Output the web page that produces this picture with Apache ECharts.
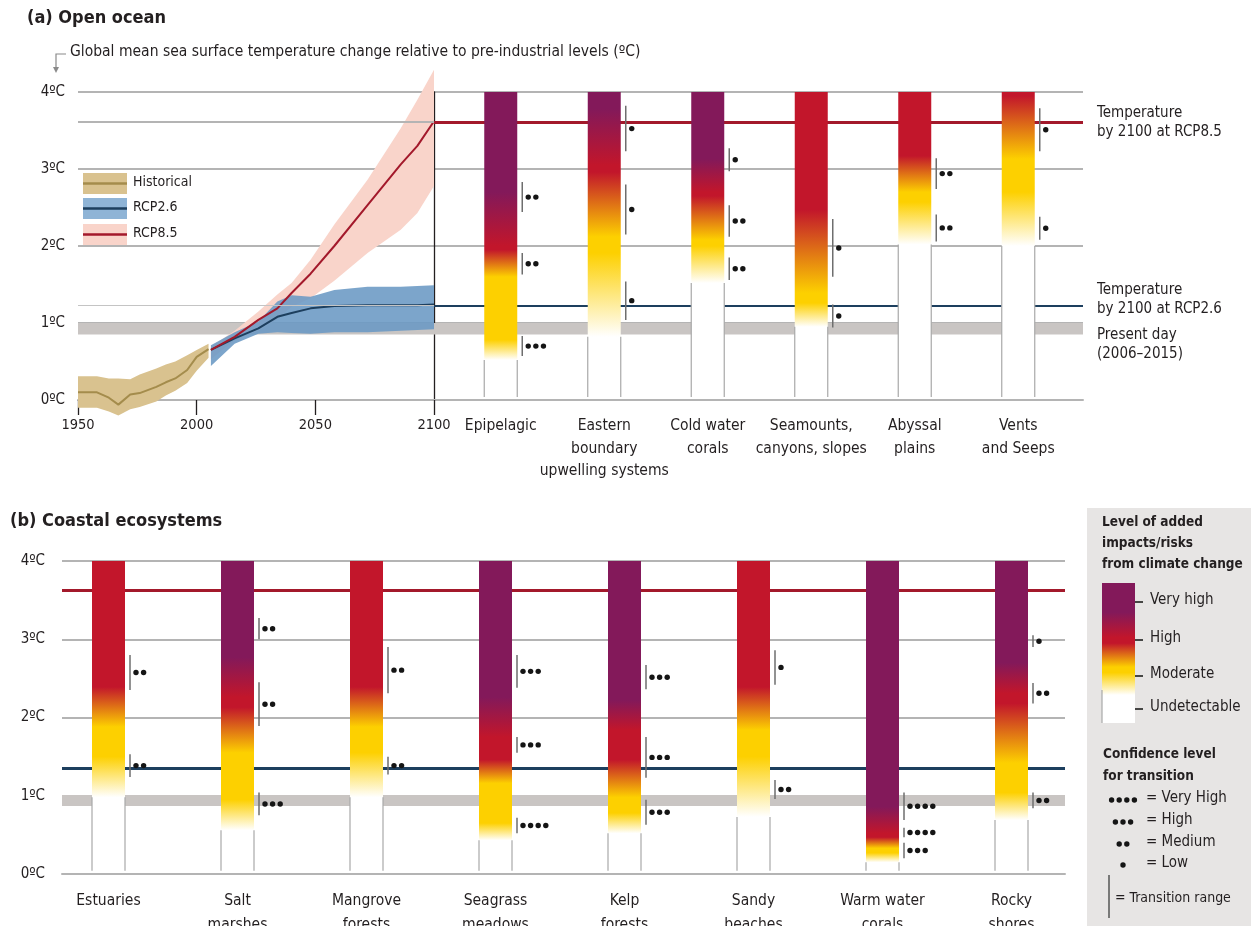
<!DOCTYPE html>
<html>
<head>
<meta charset="utf-8">
<script src="https://cdn.jsdelivr.net/npm/echarts@6/dist/echarts.min.js"></script>
<style>
  html, body { margin: 0; padding: 0; background: #fff; }
  #chart { width: 1251px; height: 926px; }
</style>
</head>
<body>
<div id="chart"></div>
<script>
const FONT = '"Liberation Sans Narrow", "Arial Narrow", "DejaVu Sans Condensed", sans-serif';
const TEXT = '#231f20';

// ---- panel (a) time series ----
const histYears = [1950, 1958, 1963, 1967, 1972, 1976, 1983, 1987, 1991, 1996, 2000, 2005];
const histMean = [0.10, 0.10, 0.03, -0.06, 0.07, 0.09, 0.17, 0.23, 0.28, 0.39, 0.56, 0.66];
const histUpper = [0.31, 0.31, 0.28, 0.28, 0.27, 0.33, 0.41, 0.46, 0.50, 0.58, 0.65, 0.73];
const histLower = [-0.10, -0.10, -0.15, -0.20, -0.12, -0.09, -0.02, 0.06, 0.12, 0.22, 0.38, 0.55];

const rcpYears = [2006, 2016, 2026, 2034, 2040, 2048, 2058, 2072, 2086, 2093, 2100];
const rcp26Mean = [0.65, 0.80, 0.93, 1.08, 1.13, 1.19, 1.22, 1.23, 1.23, 1.23, 1.24];
const rcp26Upper = [0.71, 0.88, 1.02, 1.28, 1.36, 1.34, 1.43, 1.47, 1.47, 1.48, 1.49];
const rcp26Lower = [0.44, 0.73, 0.86, 0.88, 0.87, 0.86, 0.88, 0.88, 0.90, 0.91, 0.92];
const rcp85Mean = [0.65, 0.82, 1.04, 1.19, 1.39, 1.64, 2.00, 2.53, 3.06, 3.30, 3.62];
const rcp85Upper = [0.69, 0.90, 1.15, 1.37, 1.52, 1.82, 2.28, 2.86, 3.53, 3.90, 4.29];
const rcp85Lower = [0.53, 0.78, 0.90, 1.05, 1.21, 1.32, 1.55, 1.91, 2.21, 2.43, 2.78];

const yearTicks = [1950, 2000, 2050, 2100];
const tempTicks = [0, 1, 2, 3, 4];

// reference levels
const oceanRcp85 = 3.61, oceanRcp26 = 1.23, oceanPresent = [0.85, 1.0];
const coastRcp85 = 3.62, coastRcp26 = 1.35, coastPresent = [0.87, 1.01];

// ---- risk bars: [temperature, level] 0 undetectable,1 moderate,2 high,3 very high ----
const oceanCats = ['Epipelagic', 'Eastern\nboundary\nupwelling systems', 'Cold water\ncorals',
  'Seamounts,\ncanyons, slopes', 'Abyssal\nplains', 'Vents\nand Seeps'];
const oceanRisk = [
  [[0.52, 0], [0.78, 1], [1.60, 1], [1.95, 2], [2.00, 2], [2.70, 3]],
  [[0.82, 0], [1.91, 1], [2.12, 1], [2.96, 2], [3.05, 2], [3.78, 3]],
  [[1.52, 0], [2.00, 1], [2.08, 1], [2.65, 2], [2.70, 2], [3.13, 3]],
  [[0.95, 0], [1.26, 1], [1.39, 1], [2.47, 2]],
  [[2.02, 0], [2.57, 1], [2.70, 1], [3.17, 2]],
  [[2.00, 0], [2.70, 1], [3.13, 1], [3.95, 2]]
];
// [category, low, high, dots]
const oceanConf = [
  [0, 2.44, 2.83, 2], [0, 1.63, 1.91, 2], [0, 0.57, 0.83, 3],
  [1, 3.23, 3.82, 1], [1, 2.15, 2.80, 1], [1, 1.04, 1.54, 1],
  [2, 2.97, 3.27, 1], [2, 2.12, 2.53, 2], [2, 1.56, 1.85, 2],
  [3, 1.60, 2.35, 1], [3, 0.94, 1.24, 1],
  [4, 2.74, 3.14, 2], [4, 2.06, 2.41, 2],
  [5, 3.23, 3.79, 1], [5, 2.08, 2.38, 1]
];

const coastCats = ['Estuaries', 'Salt\nmarshes', 'Mangrove\nforests', 'Seagrass\nmeadows',
  'Kelp\nforests', 'Sandy\nbeaches', 'Warm water\ncorals', 'Rocky\nshores'];
const coastRisk = [
  [[0.98, 0], [1.50, 1], [1.88, 1], [2.39, 2]],
  [[0.56, 0], [0.95, 1], [1.55, 1], [2.13, 2], [2.26, 2], [2.77, 3]],
  [[0.98, 0], [1.55, 1], [1.88, 1], [2.39, 2]],
  [[0.43, 0], [0.65, 1], [1.16, 1], [1.46, 2], [1.75, 2], [2.26, 3]],
  [[0.52, 0], [0.78, 1], [0.98, 1], [1.46, 2], [1.84, 2], [2.22, 3]],
  [[0.73, 0], [1.50, 1], [1.84, 1], [2.39, 2]],
  [[0.15, 0], [0.27, 1], [0.33, 1], [0.47, 2], [0.52, 2], [0.86, 3]],
  [[0.69, 0], [1.04, 1], [1.42, 1], [2.18, 2], [2.31, 2], [2.70, 3]]
];
const coastConf = [
  [0, 2.35, 2.80, 2], [0, 1.24, 1.53, 2],
  [1, 3.00, 3.27, 2], [1, 1.89, 2.45, 2], [1, 0.75, 1.04, 3],
  [2, 2.31, 2.90, 2], [2, 1.27, 1.50, 2],
  [3, 2.38, 2.80, 3], [3, 1.55, 1.75, 3], [3, 0.52, 0.72, 4],
  [4, 2.36, 2.67, 3], [4, 1.23, 1.75, 3], [4, 0.63, 0.95, 3],
  [5, 2.42, 2.86, 1], [5, 0.96, 1.20, 2],
  [6, 0.69, 1.04, 4], [6, 0.47, 0.59, 4], [6, 0.20, 0.40, 3],
  [7, 2.90, 3.05, 1], [7, 2.18, 2.44, 2], [7, 0.84, 1.04, 2]
];

const confNames = ['= Very High', '= High', '= Medium', '= Low'];
const riskNames = ['Very high', 'High', 'Moderate', 'Undetectable'];

const TEMP_MAX = 4;
const BAR_BASE = 0.04;
const BAR_W = 33;
const LEVEL_COLORS = ['#ffffff', '#fdd000', '#c2162b', '#83195a'];

const chart = echarts.init(document.getElementById('chart'));

function riskBar(risks) {
  return function (params, api) {
    const idx = api.value(0);
    const stops = risks[idx];
    const top = api.coord([idx, TEMP_MAX]);
    const bottom = api.coord([idx, BAR_BASE]);
    const whiteTop = api.coord([idx, stops[0][0]]);
    const x = top[0] - BAR_W / 2;
    const grad = [];
    for (let i = stops.length - 1; i >= 0; i--) {
      grad.push({ offset: (TEMP_MAX - stops[i][0]) / (TEMP_MAX - BAR_BASE), color: LEVEL_COLORS[stops[i][1]] });
    }
    return {
      type: 'group',
      children: [
        { type: 'rect', shape: { x: x, y: top[1], width: BAR_W, height: bottom[1] - top[1] },
          style: { fill: new echarts.graphic.LinearGradient(0, 0, 0, 1, grad) } },
        { type: 'line', shape: { x1: x, y1: bottom[1], x2: x, y2: whiteTop[1] }, style: { stroke: '#a8a8a8', lineWidth: 1.2 } },
        { type: 'line', shape: { x1: x + BAR_W, y1: bottom[1], x2: x + BAR_W, y2: whiteTop[1] }, style: { stroke: '#a8a8a8', lineWidth: 1.2 } }
      ]
    };
  };
}

function confMark(params, api) {
  const idx = api.value(0);
  const lo = api.coord([idx, api.value(1)]);
  const hi = api.coord([idx, api.value(2)]);
  const n = api.value(3);
  const xl = lo[0] + BAR_W / 2 + 5;
  const ym = (lo[1] + hi[1]) / 2;
  const children = [{ type: 'line', shape: { x1: xl, y1: lo[1], x2: xl, y2: hi[1] }, style: { stroke: '#6e6e6e', lineWidth: 1.5 } }];
  for (let k = 0; k < n; k++) {
    children.push({ type: 'circle', shape: { cx: xl + 6 + k * 7.6, cy: ym, r: 2.7 }, style: { fill: '#151515' } });
  }
  return { type: 'group', children: children };
}

function band(years, upper, lower, color) {
  return function (params, api) {
    if (params.dataIndex > 0) return null;
    const pts = years.map((y, i) => api.coord([y, upper[i]]));
    for (let i = years.length - 1; i >= 0; i--) pts.push(api.coord([years[i], lower[i]]));
    return { type: 'polygon', shape: { points: pts }, style: { fill: color } };
  };
}

const hiddenValueX = (gi) => ({ type: 'value', gridIndex: gi, min: 0, max: 1, show: false });
const hiddenY = (gi) => ({ type: 'value', gridIndex: gi, min: 0, max: TEMP_MAX, show: false });
const labelY = (gi, margin) => ({
  type: 'value', gridIndex: gi, min: 0, max: TEMP_MAX, interval: 1,
  axisLine: { show: false }, axisTick: { show: false },
  axisLabel: { margin: margin, fontSize: 15, color: TEXT, fontFamily: FONT,
    formatter: (v) => tempTicks.includes(v) ? v + 'ºC' : '' },
  splitLine: { lineStyle: { color: '#b4b4b4', width: 2 } }
});
const catX = (gi, cats, margin, lh) => ({
  type: 'category', gridIndex: gi, data: cats,
  axisLine: { show: false }, axisTick: { show: false },
  axisLabel: { margin: margin, fontSize: 15.5, lineHeight: lh, color: TEXT, fontFamily: FONT, interval: 0 }
});

const refLine = (value, color, width) => ({ yAxis: value, lineStyle: { color: color, width: width, type: 'solid' } });

const legendRows = [
  { name: 'Historical', band: '#d9c28f', line: '#a48c4c', y: 173 },
  { name: 'RCP2.6', band: '#8fb4d6', line: '#1d3f5e', y: 198 },
  { name: 'RCP8.5', band: '#f9d4ca', line: '#a3192b', y: 224 }
];

const graphics = [
  { type: 'text', left: 70, top: 44, style: { text: 'Global mean sea surface temperature change relative to pre-industrial levels (ºC)', font: '15.5px ' + FONT, fill: TEXT } },
  { type: 'polyline', shape: { points: [[66, 54], [56, 54], [56, 68]] }, style: { stroke: '#8a8a8a', lineWidth: 1.2, fill: null } },
  { type: 'polygon', shape: { points: [[53, 67], [59, 67], [56, 73]] }, style: { fill: '#8a8a8a' } },
  { type: 'text', left: 1097, top: 104, style: { text: 'Temperature\nby 2100 at RCP8.5', font: '15px ' + FONT, fill: TEXT, lineHeight: 19 } },
  { type: 'text', left: 1097, top: 281, style: { text: 'Temperature\nby 2100 at RCP2.6', font: '15px ' + FONT, fill: TEXT, lineHeight: 19 } },
  { type: 'text', left: 1097, top: 326, style: { text: 'Present day\n(2006–2015)', font: '15px ' + FONT, fill: TEXT, lineHeight: 19 } },
  // legend box panel (b)
  { type: 'rect', shape: { x: 1087, y: 508, width: 164, height: 418 }, style: { fill: '#e7e5e4' }, z: -10 },
  { type: 'text', left: 1102, top: 512, style: { text: 'Level of added\nimpacts/risks\nfrom climate change', font: 'bold 13.5px ' + FONT, fill: TEXT, lineHeight: 21 } },
  { type: 'rect', shape: { x: 1102, y: 583, width: 33, height: 140 }, style: { fill: new echarts.graphic.LinearGradient(0, 0, 0, 1, [
      { offset: 0.21, color: LEVEL_COLORS[3] }, { offset: 0.39, color: LEVEL_COLORS[2] }, { offset: 0.43, color: LEVEL_COLORS[2] },
      { offset: 0.60, color: LEVEL_COLORS[1] }, { offset: 0.64, color: LEVEL_COLORS[1] }, { offset: 0.80, color: LEVEL_COLORS[0] }]) } },
  { type: 'line', shape: { x1: 1102, y1: 690, x2: 1102, y2: 723 }, style: { stroke: '#a8a8a8', lineWidth: 1.2 } },
  { type: 'text', left: 1103, top: 743, style: { text: 'Confidence level\nfor transition', font: 'bold 13.5px ' + FONT, fill: TEXT, lineHeight: 22 } },
  { type: 'line', shape: { x1: 1109, y1: 875, x2: 1109, y2: 918 }, style: { stroke: '#555', lineWidth: 1.5 } },
  { type: 'text', left: 1115, top: 891, style: { text: '= Transition range', font: '14px ' + FONT, fill: TEXT } }
];

const riskTickY = [602, 640, 676, 709];
riskNames.forEach((nm, i) => {
  graphics.push({ type: 'line', shape: { x1: 1135, y1: riskTickY[i], x2: 1143, y2: riskTickY[i] }, style: { stroke: '#111', lineWidth: 1.5 } });
  graphics.push({ type: 'text', left: 1150, top: riskTickY[i] - 9, style: { text: nm, font: '15px ' + FONT, fill: TEXT } });
});
const confRowY = [800, 822, 844, 865];
confNames.forEach((nm, i) => {
  const n = 4 - i;
  const startX = 1123 - (n - 1) * 3.8;
  for (let k = 0; k < n; k++) {
    graphics.push({ type: 'circle', shape: { cx: startX + k * 7.6, cy: confRowY[i], r: 2.7 }, style: { fill: '#151515' } });
  }
  graphics.push({ type: 'text', left: 1146, top: confRowY[i] - 9, style: { text: nm, font: '15px ' + FONT, fill: TEXT } });
});
legendRows.forEach((r) => {
  graphics.push({ type: 'rect', shape: { x: 83, y: r.y, width: 44, height: 21 }, style: { fill: r.band } });
  graphics.push({ type: 'line', shape: { x1: 83, y1: r.y + 10.5, x2: 127, y2: r.y + 10.5 }, style: { stroke: r.line, lineWidth: 2.5 } });
  graphics.push({ type: 'text', left: 133, top: r.y + 2, style: { text: r.name, font: '14px ' + FONT, fill: TEXT } });
});

const G = { outerBoundsMode: 'none', containLabel: false };

chart.setOption({
  animation: false,
  backgroundColor: '#fff',
  title: [
    { text: '(a) Open ocean', left: 27, top: 9, padding: 0, textStyle: { fontSize: 18, fontWeight: 'bold', color: TEXT, fontFamily: FONT } },
    { text: '(b) Coastal ecosystems', left: 10, top: 512, padding: 0, textStyle: { fontSize: 18, fontWeight: 'bold', color: TEXT, fontFamily: FONT } }
  ],
  grid: [
    Object.assign({ left: 78, right: 168, top: 92, height: 308 }, G),   // 0 background (a)
    Object.assign({ left: 78, width: 356, top: 92, height: 308 }, G),   // 1 time series
    Object.assign({ left: 449, width: 621, top: 92, height: 308 }, G),  // 2 ocean bars
    Object.assign({ left: 434, right: 168, top: 92, height: 308 }, G),  // 3 right reference lines
    Object.assign({ left: 62, right: 186, top: 561, height: 313 }, G),  // 4 background (b)
    Object.assign({ left: 44, width: 1032, top: 561, height: 313 }, G)  // 5 coastal bars
  ],
  xAxis: [
    { type: 'value', gridIndex: 0, min: 0, max: 1, offset: 8, axisLine: { show: true, lineStyle: { color: '#b4b4b4', width: 2 } },
      axisTick: { show: false }, axisLabel: { show: false }, splitLine: { show: false } },
    { type: 'value', gridIndex: 1, min: yearTicks[0], max: yearTicks[yearTicks.length - 1], interval: 50,
      axisLine: { show: false }, axisTick: { show: true, length: 15, lineStyle: { color: '#231f20', width: 1.3 } },
      axisLabel: { margin: 18, fontSize: 14.5, color: TEXT, fontFamily: FONT, formatter: (v) => String(v) }, splitLine: { show: false } },
    catX(2, oceanCats, 15, 22.5),
    hiddenValueX(3),
    { type: 'value', gridIndex: 4, min: 0, max: 1, offset: 9, axisLine: { show: true, lineStyle: { color: '#b4b4b4', width: 2 } },
      axisTick: { show: false }, axisLabel: { show: false }, splitLine: { show: false } },
    catX(5, coastCats, 15, 24)
  ],
  yAxis: [
    labelY(0, 13),
    { type: 'value', gridIndex: 1, min: 0, max: TEMP_MAX, position: 'right', axisLine: { show: true, lineStyle: { color: '#231f20', width: 1.3 } },
      axisTick: { show: false }, axisLabel: { show: false }, splitLine: { show: false } },
    hiddenY(2),
    hiddenY(3),
    labelY(4, 17),
    hiddenY(5)
  ],
  graphic: graphics,
  series: [
    { type: 'line', xAxisIndex: 0, yAxisIndex: 0, data: [], z: 1, silent: true,
      markArea: { silent: true, itemStyle: { color: '#c9c5c3' }, data: [[{ yAxis: oceanPresent[0] }, { yAxis: oceanPresent[1] }]] } },
    { type: 'custom', name: 'Historical band', xAxisIndex: 1, yAxisIndex: 1, z: 2, silent: true,
      renderItem: band(histYears, histUpper, histLower, '#d9c28f'), data: histYears.map((y, i) => [y, histUpper[i], histLower[i]]) },
    { type: 'custom', name: 'RCP8.5 band', xAxisIndex: 1, yAxisIndex: 1, z: 2, silent: true,
      renderItem: band(rcpYears, rcp85Upper, rcp85Lower, '#f9d4ca'), data: rcpYears.map((y, i) => [y, rcp85Upper[i], rcp85Lower[i]]) },
    { type: 'custom', name: 'RCP2.6 band', xAxisIndex: 1, yAxisIndex: 1, z: 2, silent: true,
      renderItem: band(rcpYears, rcp26Upper, rcp26Lower, 'rgba(106,153,196,0.88)'), data: rcpYears.map((y, i) => [y, rcp26Upper[i], rcp26Lower[i]]) },
    { type: 'line', xAxisIndex: 1, yAxisIndex: 1, data: [], z: 3, silent: true,
      markLine: { silent: true, symbol: 'none', label: { show: false },
        data: [refLine(oceanRcp85, '#b4b4b4', 2), refLine(oceanRcp26, '#c4c4c4', 1)] } },
    { type: 'line', name: 'Historical', xAxisIndex: 1, yAxisIndex: 1, z: 4, clip: false, showSymbol: false,
      lineStyle: { color: '#a48c4c', width: 2 }, data: histYears.map((y, i) => [y, histMean[i]]) },
    { type: 'line', name: 'RCP2.6', xAxisIndex: 1, yAxisIndex: 1, z: 4, clip: false, showSymbol: false,
      lineStyle: { color: '#1d3f5e', width: 2 }, data: rcpYears.map((y, i) => [y, rcp26Mean[i]]) },
    { type: 'line', name: 'RCP8.5', xAxisIndex: 1, yAxisIndex: 1, z: 4, clip: false, showSymbol: false,
      lineStyle: { color: '#a3192b', width: 2 }, data: rcpYears.map((y, i) => [y, rcp85Mean[i]]) },
    { type: 'line', xAxisIndex: 3, yAxisIndex: 3, data: [], z: 3, silent: true,
      markLine: { silent: true, symbol: 'none', label: { show: false },
        data: [refLine(oceanRcp85, '#a3192b', 3), refLine(oceanRcp26, '#1d3f5e', 2)] } },
    { type: 'custom', xAxisIndex: 2, yAxisIndex: 2, z: 6, silent: true, renderItem: riskBar(oceanRisk),
      data: oceanRisk.map((_, i) => [i, TEMP_MAX]) },
    { type: 'custom', xAxisIndex: 2, yAxisIndex: 2, z: 7, silent: true, renderItem: confMark, data: oceanConf },
    { type: 'line', xAxisIndex: 4, yAxisIndex: 4, data: [], z: 1, silent: true,
      markArea: { silent: true, itemStyle: { color: '#c9c5c3' }, data: [[{ yAxis: coastPresent[0] }, { yAxis: coastPresent[1] }]] },
      markLine: { silent: true, symbol: 'none', label: { show: false },
        data: [refLine(coastRcp85, '#a3192b', 3), refLine(coastRcp26, '#1d3f5e', 3)] } },
    { type: 'custom', xAxisIndex: 5, yAxisIndex: 5, z: 6, silent: true, renderItem: riskBar(coastRisk),
      data: coastRisk.map((_, i) => [i, TEMP_MAX]) },
    { type: 'custom', xAxisIndex: 5, yAxisIndex: 5, z: 7, silent: true, renderItem: confMark, data: coastConf }
  ]
});
</script>
</body>
</html>
